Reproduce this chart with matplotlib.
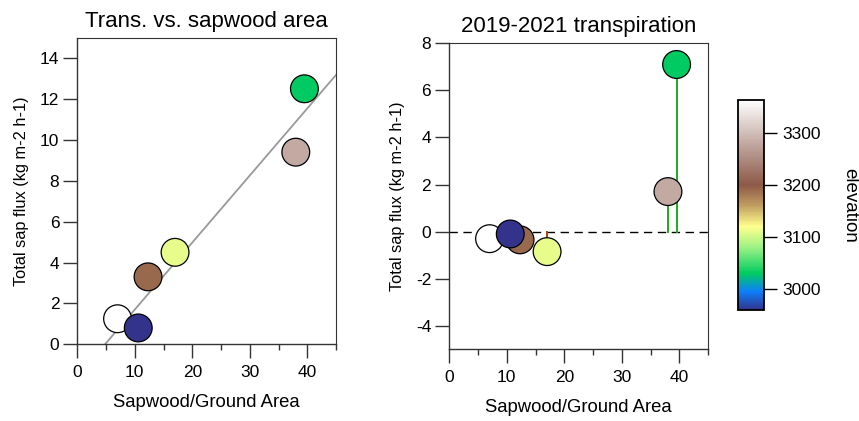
import numpy as np
import matplotlib
matplotlib.use("Agg")
import matplotlib.pyplot as plt
from matplotlib.colors import LinearSegmentedColormap, Normalize
from matplotlib.cm import ScalarMappable

plt.rcParams["font.family"] = ["Liberation Sans", "DejaVu Sans"]
plt.rcParams["axes.unicode_minus"] = False

# Per-site values
sapwood_area = [7.0, 12.3, 10.6, 17.0, 38.0, 39.5]
total_flux = [1.25, 3.3, 0.8, 4.5, 9.4, 12.5]
flux_2019_2021 = [-0.3, -0.35, -0.1, -0.85, 1.7, 7.1]
elevation = [3363, 3190, 2960, 3110, 3280, 3030]

# Linear fit of total flux against sapwood area
fit_slope = 0.328
fit_intercept = -1.58

elev_min, elev_max = 2960, 3363
cbar_ticks = [3000, 3100, 3200, 3300]

# Terrain-style palette: navy -> blue -> green -> yellow -> brown -> white
stops = [
    (2960, (0.20, 0.20, 0.55)),
    (2995, (0.05, 0.50, 0.98)),
    (3030, (0.00, 0.80, 0.38)),
    (3080, (0.62, 0.95, 0.52)),
    (3120, (1.00, 1.00, 0.55)),
    (3160, (0.76, 0.62, 0.38)),
    (3200, (0.55, 0.35, 0.28)),
    (3280, (0.76, 0.66, 0.63)),
    (3363, (1.00, 1.00, 1.00)),
]
cmap = LinearSegmentedColormap.from_list(
    "elev", [((v - elev_min) / (elev_max - elev_min), c) for v, c in stops])
norm = Normalize(elev_min, elev_max)

fig = plt.figure(figsize=(8.59, 4.21), dpi=100)
ax1 = fig.add_axes([0.0900, 0.1822, 0.3012, 0.7283])
ax2 = fig.add_axes([0.5230, 0.1703, 0.3015, 0.7268])
cax = fig.add_axes([0.8591, 0.2637, 0.0303, 0.4988])

tick_fs = 12.5
xlabel_fs = 13.3
ylabel_fs = 11.8
title_fs = 16
marker_s = 400


def style_axes(ax):
    for side, sp in ax.spines.items():
        sp.set_color("#333333")
        sp.set_linewidth(1.0 if side in ("left", "bottom") else 0.8)
    ax.tick_params(axis="both", which="major", direction="out", length=10,
                   width=1.0, color="#333333", labelsize=tick_fs)
    ax.tick_params(axis="x", which="major", pad=5)
    ax.tick_params(axis="y", which="major", pad=3)
    ax.tick_params(axis="x", which="minor", direction="out", length=4.5,
                   width=1.0, color="#333333")
    ax.set_xlim(0, 45)
    ax.set_xticks([0, 10, 20, 30, 40])
    ax.set_xticks([5, 15, 25, 35, 45], minor=True)
    ax.tick_params(axis="y", which="minor", left=False)
    ax.set_xlabel("Sapwood/Ground Area", fontsize=xlabel_fs, labelpad=10)
    ax.set_ylabel("Total sap flux (kg m-2 h-1)", fontsize=ylabel_fs, labelpad=8)


# Left panel: total sap flux vs sapwood area
style_axes(ax1)
ax1.set_ylim(0, 15)
ax1.set_yticks(np.arange(0, 15, 2))
xs = np.array([0, 45])
ax1.plot(xs, fit_slope * xs + fit_intercept, color="#999999", lw=1.3, zorder=1)
ax1.scatter(sapwood_area, total_flux, c=elevation, cmap=cmap, norm=norm,
            s=marker_s, edgecolors="black", linewidths=0.9, zorder=3)
ax1.set_title("Trans. vs. sapwood area", fontsize=title_fs, pad=8)

# Right panel: 2019-2021 transpiration with drop lines to zero
style_axes(ax2)
ax2.set_ylim(-5, 8)
ax2.set_yticks(np.arange(-4, 9, 2))
ax2.axhline(0, color="black", lw=1.0, ls=(0, (6, 4)), zorder=1)
for x, y in zip(sapwood_area, flux_2019_2021):
    col = "#1aad1a" if y > 0 else "#b34000"
    ax2.plot([x, x], [0, y], color=col, lw=1.4, zorder=2)
ax2.scatter(sapwood_area, flux_2019_2021, c=elevation, cmap=cmap, norm=norm,
            s=marker_s, edgecolors="black", linewidths=0.9, zorder=3)
ax2.set_title("2019-2021 transpiration", fontsize=title_fs, pad=8)

# Elevation colour bar
sm = ScalarMappable(norm=norm, cmap=cmap)
cb = fig.colorbar(sm, cax=cax)
cb.set_ticks(cbar_ticks)
cb.outline.set_linewidth(1.3)
cb.outline.set_edgecolor("black")
cax.tick_params(length=9, width=1.0, labelsize=tick_fs, pad=4)
cb.set_label("elevation", fontsize=13.5, rotation=270, labelpad=27)

fig.savefig("out.png", dpi=100)
